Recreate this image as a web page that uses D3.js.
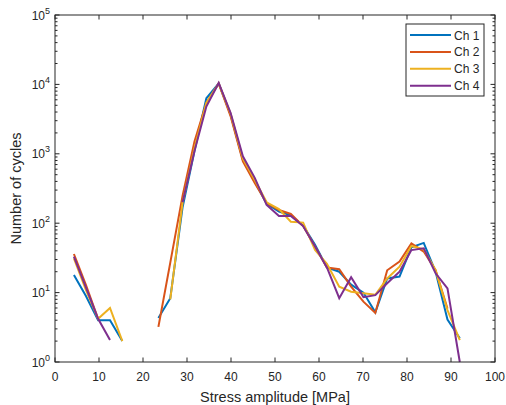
<!DOCTYPE html>
<html>
<head>
<meta charset="utf-8">
<script src="https://cdn.jsdelivr.net/npm/d3@7"></script>
<style>
body { margin: 0; background: #fff; }
text { font-family: "Liberation Sans", Arial, sans-serif; fill: #262626; }
</style>
</head>
<body>
<div id="chart"></div>
<script>
// stress amplitude bin centres [MPa]
var stress = [4.3, 7.0, 9.8, 12.5, 15.3, 18.0, 20.7, 23.5, 26.2, 29.0, 31.7, 34.4, 37.2, 39.9, 42.7, 45.4,
	48.1, 50.9, 53.6, 56.4, 59.1, 61.8, 64.6, 67.3, 70.1, 72.8, 75.5, 78.3, 81.0, 83.8, 86.5, 89.2, 92.0];

// number of cycles per channel (null = no cycles, not drawn on log axis)
var ch1 = [18, 9, 4, 4, 2, null, null, 4.3, 8.3, 170, 1100, 6300, 10300, 3700, 820, 400,
	190, 147, 130, 92, 49, 23, 20, 13, 10, 5.2, 16, 17, 45, 52, 20, 4.1, 2.2];
var ch2 = [36, 13, 4.2, null, null, null, null, 3.2, 27, 250, 1500, 5400, 10300, 3500, 780, 380,
	195, 155, 136, 91, 46, 23, 21.7, 12.2, 7.4, 5.1, 21, 28, 51, 39, 21, 5.9, null];
var ch3 = [31, 11, 4.2, 6, 2, null, null, null, 8, 200, 1200, 5400, 10300, 3800, 850, 420,
	200, 160, 105, 102, 41, 26, 12.2, 10.3, 9.8, 9.3, 16, 23.6, 47, 42, 21, 5.6, 2.07];
var ch4 = [33, 12, 4.2, 2.07, null, null, null, null, null, 200, 1100, 4800, 10500, 3900, 920, 450,
	183, 127, 127, 91, 46, 23, 8.3, 16.6, 8.6, 9.2, 13.6, 20, 41, 43.5, 19, 11.5, 1];

var names = ["Ch 1", "Ch 2", "Ch 3", "Ch 4"];
var colors = ["#0072BD", "#D95319", "#EDB120", "#7E2F8E"];
var series = [ch1, ch2, ch3, ch4];

var xTicks = [0, 10, 20, 30, 40, 50, 60, 70, 80, 90, 100];
var yDecades = [0, 1, 2, 3, 4, 5];

var width = 506, height = 405;
var plotLeft = 55, plotRight = 495, plotTop = 15, plotBottom = 362;
var axisColor = "#262626";

var svg = d3.select("#chart").append("svg")
	.attr("width", width)
	.attr("height", height);

var x = d3.scaleLinear().domain([0, 100]).range([plotLeft, plotRight]);
var y = d3.scaleLog().domain([1, 1e5]).range([plotBottom, plotTop]);

// data lines
var line = d3.line()
	.defined(function(d) { return d != null; })
	.x(function(d, i) { return x(stress[i]); })
	.y(function(d) { return y(d); });

series.forEach(function(s, k) {
	svg.append("path")
		.datum(s)
		.attr("d", line)
		.attr("fill", "none")
		.attr("stroke", colors[k])
		.attr("stroke-width", 2);
});

// box
svg.append("rect")
	.attr("x", plotLeft).attr("y", plotTop)
	.attr("width", plotRight - plotLeft).attr("height", plotBottom - plotTop)
	.attr("fill", "none")
	.attr("stroke", axisColor)
	.attr("stroke-width", 1);

// x ticks, inward, bottom and top
var tickLen = 4.5;
xTicks.forEach(function(t) {
	svg.append("line")
		.attr("x1", x(t)).attr("x2", x(t))
		.attr("y1", plotBottom).attr("y2", plotBottom - tickLen)
		.attr("stroke", axisColor);
	svg.append("line")
		.attr("x1", x(t)).attr("x2", x(t))
		.attr("y1", plotTop).attr("y2", plotTop + tickLen)
		.attr("stroke", axisColor);
	svg.append("text")
		.attr("x", x(t))
		.attr("y", plotBottom + 19)
		.attr("text-anchor", "middle")
		.style("font-size", "12px")
		.text(t);
});

// y ticks: majors and minors, left and right
yDecades.forEach(function(p) {
	var v = Math.pow(10, p);
	svg.append("line")
		.attr("x1", plotLeft).attr("x2", plotLeft + tickLen)
		.attr("y1", y(v)).attr("y2", y(v))
		.attr("stroke", axisColor);
	svg.append("line")
		.attr("x1", plotRight).attr("x2", plotRight - tickLen)
		.attr("y1", y(v)).attr("y2", y(v))
		.attr("stroke", axisColor);
	var lbl = svg.append("text")
		.attr("x", 50)
		.attr("y", y(v) + 4.5)
		.attr("text-anchor", "end")
		.style("font-size", "12px");
	lbl.append("tspan").text("10");
	lbl.append("tspan")
		.attr("dy", -6)
		.style("font-size", "9px")
		.text(p);
	if (p < 5) {
		for (var m = 2; m < 10; m++) {
			var mv = m * v;
			svg.append("line")
				.attr("x1", plotLeft).attr("x2", plotLeft + 2.5)
				.attr("y1", y(mv)).attr("y2", y(mv))
				.attr("stroke", axisColor);
			svg.append("line")
				.attr("x1", plotRight).attr("x2", plotRight - 2.5)
				.attr("y1", y(mv)).attr("y2", y(mv))
				.attr("stroke", axisColor);
		}
	}
});

// axis labels
svg.append("text")
	.attr("x", (plotLeft + plotRight) / 2)
	.attr("y", 402)
	.attr("text-anchor", "middle")
	.style("font-size", "14.5px")
	.text("Stress amplitude [MPa]");

svg.append("text")
	.attr("transform", "translate(21," + ((plotTop + plotBottom) / 2) + ") rotate(-90)")
	.attr("text-anchor", "middle")
	.style("font-size", "14.5px")
	.text("Number of cycles");

// legend
var lg = svg.append("g");
lg.append("rect")
	.attr("x", 406).attr("y", 24)
	.attr("width", 78).attr("height", 72)
	.attr("fill", "#fff")
	.attr("stroke", axisColor);
names.forEach(function(n, k) {
	var ly = 35 + k * 16.9;
	lg.append("line")
		.attr("x1", 410).attr("x2", 451)
		.attr("y1", ly).attr("y2", ly)
		.attr("stroke", colors[k])
		.attr("stroke-width", 2);
	lg.append("text")
		.attr("x", 454)
		.attr("y", ly + 4.5)
		.style("font-size", "12px")
		.text(n);
});
</script>
</body>
</html>
